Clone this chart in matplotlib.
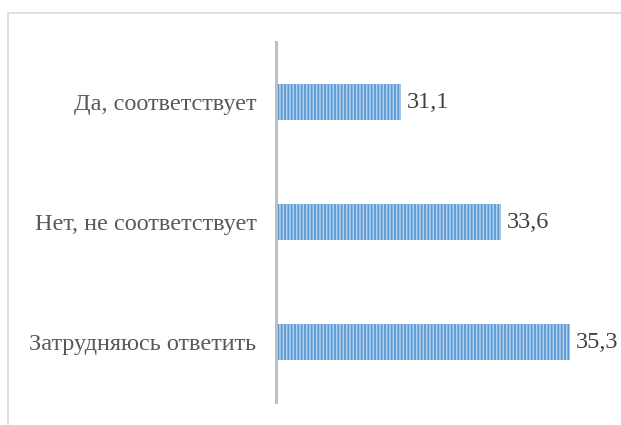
import matplotlib.pyplot as plt
from matplotlib.patches import Rectangle

categories = ['Да, соответствует', 'Нет, не соответствует', 'Затрудняюсь ответить']
values = [31.1, 33.6, 35.3]
value_labels = ['31,1', '33,6', '35,3']

plt.rcParams['font.family'] = ['Liberation Serif', 'DejaVu Serif']
plt.rcParams['hatch.linewidth'] = 1.3

fig = plt.figure(figsize=(6.21, 4.25), dpi=100)
fig.patches.append(Rectangle((8 / 621, -0.1), 1.2, 1 - 13 / 425 + 0.1,
                             transform=fig.transFigure, fill=False,
                             edgecolor='#d9d9d9', linewidth=1.2))
ax = fig.add_axes([276 / 621, 1 - 402 / 425, 0.518, 360 / 425])

ypos = list(range(len(categories)))
ax.barh(ypos, values, height=0.3, color='#b4d1ef', edgecolor='#5b9bd5',
        hatch='|||||', linewidth=0, left=0)
ax.set_xlim(28, 36)
ax.set_ylim(len(categories) - 0.5, -0.5)

for y, v, lab in zip(ypos, values, value_labels):
    ax.text(v + 0.15, y, lab, va='center', ha='left', fontsize=17.5, color='#404040')

ax.set_yticks(ypos)
ax.set_yticklabels(categories, fontsize=17.5, color='#595959')
ax.tick_params(axis='y', length=0, pad=14)
ax.xaxis.set_visible(False)
for s in ['top', 'right', 'bottom']:
    ax.spines[s].set_visible(False)
ax.spines['left'].set_color('#bfbfbf')
ax.spines['left'].set_linewidth(2.2)

fig.savefig('out.png', dpi=100)
